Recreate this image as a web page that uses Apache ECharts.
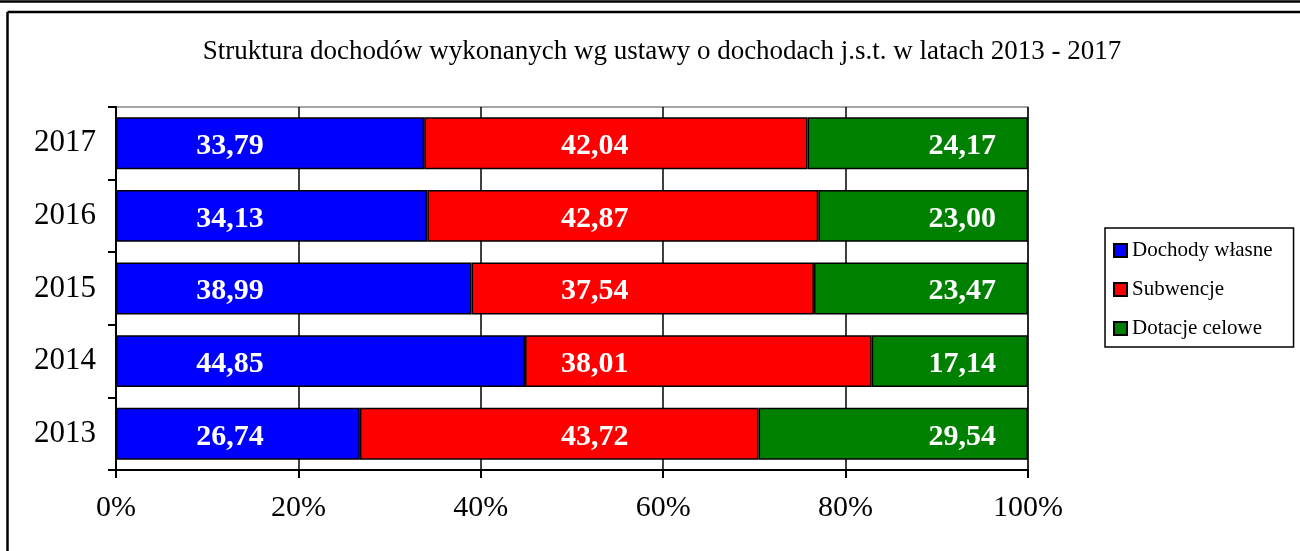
<!DOCTYPE html>
<html>
<head>
<meta charset="utf-8">
<script src="https://cdn.jsdelivr.net/npm/echarts@6/dist/echarts.min.js"></script>
<style>
  html, body { margin: 0; padding: 0; background: #fff; }
  #chart { width: 1300px; height: 551px; }
</style>
</head>
<body>
<div id="chart"></div>
<script>
// dane
let years = ['2013', '2014', '2015', '2016', '2017']
let dochodyWlasne = [26.74, 44.85, 38.99, 34.13, 33.79]
let subwencje = [43.72, 38.01, 37.54, 42.87, 42.04]
let dotacjeCelowe = [29.54, 17.14, 23.47, 23.00, 24.17]
let seriesNames = ['Dochody własne', 'Subwencje', 'Dotacje celowe']
let xTicks = [0, 20, 40, 60, 80, 100]

let myChart = echarts.init(document.getElementById('chart'))

let serif = 'Liberation Serif'
let colors = ['#0000ff', '#ff0000', '#008000']
// etykiety w Excelu stoją w stałym miejscu osi (w % szerokości)
let labelAt = [12.5, 52.5, 92.8]
let allSeries = [dochodyWlasne, subwencje, dotacjeCelowe]

function fmt(v) {
    return v.toFixed(2).replace('.', ',')
}

let series = []
for (let k = 0; k < allSeries.length; k++) {
    let values = allSeries[k]
    let data = []
    for (let i = 0; i < values.length; i++) {
        let start = 0
        for (let j = 0; j < k; j++) start += allSeries[j][i]
        let px = (labelAt[k] - start) / values[i] * 100
        data.push({
            value: values[i],
            label: { position: [px + '%', '56%'] }
        })
    }
    series.push({
        name: seriesNames[k],
        type: 'bar',
        stack: 'total',
        barCategoryGap: '28.5%',
        itemStyle: { color: colors[k], borderColor: '#000', borderWidth: 1.5 },
        label: {
            show: true,
            align: 'center',
            verticalAlign: 'middle',
            color: '#fff',
            fontFamily: serif,
            fontWeight: 'bold',
            fontSize: 30,
            formatter: function (p) { return fmt(p.value) }
        },
        emphasis: { disabled: true },
        data: data
    })
}

let option = {
    animation: false,
    title: {
        text: 'Struktura dochodów wykonanych wg ustawy o dochodach j.s.t. w latach 2013 - 2017',
        left: 657,
        top: 33,
        textAlign: 'center',
        textStyle: { fontFamily: serif, fontWeight: 'normal', fontSize: 27, color: '#000' }
    },
    legend: {
        orient: 'vertical',
        left: 1105,
        top: 228,
        padding: [12, 21, 8, 8],
        itemGap: 18,
        itemWidth: 13,
        itemHeight: 13,
        icon: 'rect',
        borderColor: '#000',
        borderWidth: 1.5,
        textStyle: { fontFamily: serif, fontSize: 21, color: '#000' },
        data: seriesNames
    },
    grid: {
        left: 116,
        right: 272,
        top: 107,
        bottom: 81,
        show: true,
        borderColor: '#888',
        borderWidth: 1.5
    },
    xAxis: {
        type: 'value',
        min: xTicks[0],
        max: xTicks[xTicks.length - 1],
        interval: 20,
        axisLine: { show: true, lineStyle: { color: '#000', width: 2 } },
        axisTick: { show: true, length: 8, lineStyle: { color: '#000', width: 2 } },
        splitLine: { show: true, lineStyle: { color: '#000', width: 1.5 } },
        axisLabel: {
            margin: 23,
            fontFamily: serif,
            fontSize: 30,
            color: '#000',
            formatter: '{value}%'
        }
    },
    yAxis: {
        type: 'category',
        data: years,
        axisLine: { show: true, lineStyle: { color: '#000', width: 2 } },
        axisTick: { show: true, length: 8, lineStyle: { color: '#000', width: 2 } },
        axisLabel: { margin: 20, fontFamily: serif, fontSize: 31, color: '#000' }
    },
    graphic: [
        { type: 'line', shape: { x1: 0, y1: 1.5, x2: 1300, y2: 1.5 }, style: { stroke: '#000', lineWidth: 2.5 } },
        { type: 'line', shape: { x1: 7.5, y1: 12, x2: 1300, y2: 12 }, style: { stroke: '#000', lineWidth: 2.5 } },
        { type: 'line', shape: { x1: 7.5, y1: 12, x2: 7.5, y2: 551 }, style: { stroke: '#000', lineWidth: 2.5 } }
    ],
    series: series
}

myChart.setOption(option)
</script>
</body>
</html>
